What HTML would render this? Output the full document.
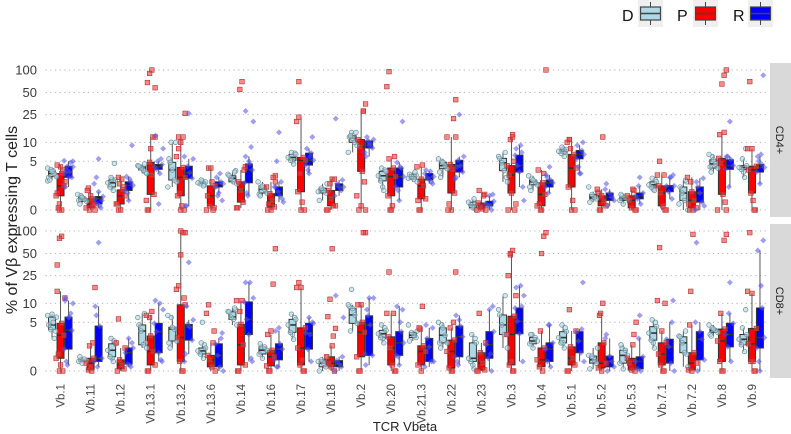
<!DOCTYPE html>
<html><head><meta charset="utf-8"><style>
html,body{margin:0;padding:0;background:#fff;}
svg{display:block;font-family:"Liberation Sans",sans-serif;}
</style></head><body>
<svg id="chart" width="791" height="434" viewBox="0 0 791 434">
<g id="legend"></g>
<g id="panels"></g>
<g id="xlabels"></g>
<text x="405" y="431" font-size="13" fill="#222" text-anchor="middle">TCR Vbeta</text>
<text transform="translate(17,220) rotate(-90)" font-size="16" fill="#222" text-anchor="middle">% of Vβ expressing T cells</text>
</svg>
<script>
const categories=["Vb.1","Vb.11","Vb.12","Vb.13.1","Vb.13.2","Vb.13.6","Vb.14","Vb.16","Vb.17","Vb.18","Vb.2","Vb.20","Vb.21.3","Vb.22","Vb.23","Vb.3","Vb.4","Vb.5.1","Vb.5.2","Vb.5.3","Vb.7.1","Vb.7.2","Vb.8","Vb.9"];
const groups=["D","P","R"];
const panels=["CD4+","CD8+"];
const yTicks=[0,5,10,25,50,100];
// stats per box: [q1, median, q3, whiskerLow, whiskerHigh]
const cd4D=[[2.6,3.0,3.3,2.2,3.8],[0.45,0.6,0.7,0.3,0.9],[1.5,1.9,2.2,1.2,2.5],[3.5,3.8,4.1,3,4.5],[2.2,3.5,4.8,1.5,10],[1.8,1.9,2.0,1.6,2.2],[2.0,2.4,2.7,1.8,3.2],[1.0,1.3,1.6,0.8,2.0],[5.2,5.8,6.5,4.5,7],[1.0,1.2,1.4,0.5,1.8],[10,11.5,12.5,7,14],[2.1,2.7,3.3,1.2,3.8],[2.3,2.6,2.9,2,3.2],[3.7,4.2,4.8,2.5,5.5],[0.1,0.25,0.4,0,0.6],[3.4,4.7,5.6,2,7],[1.7,2.0,2.2,1.2,2.7],[6.8,7.3,7.8,6,8.5],[0.6,0.7,0.9,0.4,1.1],[0.5,0.6,0.7,0.3,0.9],[1.5,1.7,2.0,1.2,2.4],[0.5,1.0,1.5,0,2.2],[3.8,4.5,5.3,3.2,6.5],[3.6,3.9,4.2,2.5,5.5]];
const cd4P=[[0.8,1.6,3.0,0,4.3],[0.1,0.3,0.6,0,1.2],[0.3,0.8,1.25,0,2.5],[0.9,2.8,4.8,0,12],[0.8,2.5,3.9,0,12],[0.2,0.8,1.6,0,3.8],[0.4,1.2,2.0,0.1,3.5],[0.15,0.5,0.95,0,2.0],[1.1,5.2,5.8,0,23],[0.2,0.6,1.2,0,2.3],[3.3,8.5,11,0,28],[0.8,2.6,3.8,0,5.5],[0.6,1.6,2.3,0,4],[1.0,3.6,4.4,0,12],[0.05,0.15,0.35,0,0.8],[1.0,2.8,4.2,0,12],[0.2,0.9,1.9,0,3.5],[1.5,3.8,6.5,0,11],[0.2,0.45,0.8,0,1.3],[0.1,0.5,0.8,0,1.3],[0.2,1.0,1.6,0,2.8],[0.1,0.5,1.1,0,2.5],[0.9,4.6,5.6,0,14],[1.0,3.5,4.1,0,8]];
const cd4R=[[2.5,3.2,4.1,1.5,5],[0.3,0.6,0.75,0.1,1.1],[1.2,1.65,2.0,0.5,2.6],[3.6,4.0,4.4,3,5],[2.4,3.1,4.1,0.2,5.5],[1.5,1.8,2.0,1,2.5],[1.9,3.5,4.5,0.8,6],[0.8,1.1,1.5,0.4,2],[4.3,5.2,6.8,3,8],[1.2,1.5,1.8,0.8,2.2],[8.2,9.5,10.5,6,11],[1.5,2.6,3.8,0.5,4.8],[2.2,2.5,3.0,1.8,3.3],[3.2,4.2,5.2,2.5,6],[0.2,0.3,0.45,0,0.8],[3.2,4.2,6.3,1.5,9],[1.5,1.9,2.2,1,2.8],[5.5,6.5,7.5,3,9],[0.5,0.7,1,0.2,1.3],[0.6,0.8,1,0.3,1.6],[1.1,1.6,1.6,0.6,2.5],[0.4,1.0,1.5,0,2.4],[3.6,4.2,5.3,1.5,6],[3.2,3.9,4.4,1.8,6]];
const cd8D=[[3.7,4.5,6.1,2.5,6.8],[0.5,0.55,0.65,0.4,0.8],[0.8,1.3,1.9,0.5,2.5],[1.8,3.5,4.5,1.5,7],[2.2,3.8,4.1,1.5,6.5],[1.0,1.25,1.5,0.7,2],[5.6,6.1,7.4,4.5,8.5],[1.0,1.3,1.6,0.7,1.9],[3.3,4.5,5.6,2.4,6.8],[0.2,0.4,0.6,0,0.8],[4.8,6.6,8.3,3.5,9.5],[2.6,3.1,3.6,2,4.5],[2.6,2.9,3.3,2.2,3.5],[2.0,2.9,4.0,1.5,5],[0.5,0.7,2.0,0.1,3],[3.0,4.5,6.6,1.5,13],[1.9,2.2,2.6,1.5,3],[2.0,2.6,3.4,1.5,4.5],[0.4,0.6,0.85,0.1,1.5],[0.4,0.9,1.3,0.1,1.8],[2.3,3.2,4.2,1.5,5.5],[1.1,2.0,2.7,0.2,3.5],[3.3,3.6,3.8,2.8,4.5],[1.8,2.4,3.0,1.2,4]];
const cd8P=[[0.7,2.9,4.8,0,15],[0.05,0.4,0.7,0,1.7],[0.1,0.3,0.6,0,1.5],[0.3,1.2,2.8,0,6.5],[0.5,2.6,9.5,0,100],[0.2,0.6,0.9,0,2],[0.3,1.8,4.6,0,11],[0.25,0.8,1.3,0,3],[0.3,1.5,4,0,17],[0.2,0.4,0.8,0,1.7],[0.8,3.3,5.0,0,9.5],[0.3,1.5,2.7,0,7],[0.3,1.2,1.7,0,4],[0.15,1.2,2.3,0,4],[0.05,0.4,1.1,0,2],[0.3,3.0,6.3,0,50],[0.2,0.6,1.5,0,3.5],[0.3,0.7,1.6,0,3.5],[0.15,0.4,2.0,0,6.5],[0.05,0.4,0.7,0,1.8],[0.3,1.0,2.0,0,3.5],[0.05,0.4,1.1,0,4.5],[0.5,2.2,3.8,0,7],[0.5,1.9,3.9,0,14]];
const cd8R=[[1.4,3.6,6.1,0.3,11],[0.5,0.7,4.3,0.2,9],[0.35,1.1,1.5,0.2,2.5],[1.1,3.4,4.8,0.5,10],[2.3,4.1,4.6,1,5.5],[0.2,0.9,1.9,0,2.5],[3.0,5.6,10.5,0.5,20],[0.6,1.4,1.9,0.2,3.5],[1.4,3.2,4.8,0.5,6],[0.2,0.35,0.55,0,0.8],[0.9,4.5,6.4,0.3,12],[0.9,2.0,3.4,0.3,9],[0.5,1.6,2.5,0.2,4],[0.8,2.7,4.3,0.3,6.5],[0.7,1.8,3.4,0,8],[3.1,5.2,8.5,0.5,18],[0.5,1.4,2.0,0.2,4.5],[1.1,2.2,3.4,0.5,3.8],[0.2,0.5,0.85,0,2.5],[0.1,0.5,0.8,0,2.5],[0.4,1.6,2.4,0,5],[0.6,2.4,3.4,0,5],[1.6,3.0,4.8,0.5,7],[1.5,2.6,8.5,0,55]];
// extra observed points (outliers & spread)
const cd4Dpts=[[2.1,2.8,3.4,3.6,2.5],[0.8,0.5],[4.6,2.3],[4.2,3.2],[10,5.5,2],[1.7,2.1],[2.9,3.4],[1.5,0.9],[6.8,5],[1.1],[14,12,9],[3.5,1.5],[2.4,2.8],[5,3.2],[0.3],[6,2.5],[2.4,1.5],[7,8],[1.5],[0.8],[2.2,1.3],[0.3,2],[6,4],[8,3.2]];
const cd4Ppts=[[0,0.3,1,2,3.5,4,0.1],[0,0.2,0.8,1.4],[0,0.3,1.5,2.3,1.8],[100,90,68,58,12,8,0,0.5],[26,12,10,8,6,0,0.2,1],[3.8,0,0.1,2],[70,55,0.1,4],[2.7,2.5,0,0.3,1.5],[70,20,0,0.4,3],[2.3,1.8,0,0.2],[35,28,0.2,0,0.8,2],[95,60,6,0.2,0],[4.3,0,0.5],[40,22,0,0.3,12],[1.2,0,0.9],[13,11,0,0.3,5],[100,3,0,0.3],[11,10,0,0.5,8],[12,0,1],[0,1.2],[5,2.8,0],[0,2,0.3],[100,85,65,13,0,0.4],[70,8,0,0.5]];
const cd4Rpts=[[3,4,4.8,2.5,3.5,5.1],[5.5,2.5,1.8,0.5,0.2],[9,2.3,1],[12.5,8,5.5,0.3],[26,0.2,6],[0.5,3,0.8],[28,20,8.5,5,1],[14,5,1.5,0.6],[12,6,3.5],[22,1.5],[9,12,7],[20,4,1.2],[3.5,2.6,2],[25,4,2.3],[0.9,0.2],[8,0.5,7],[4,2.5],[10,3,4],[1.8],[2.5],[2.8,2.5],[2,0.2],[20,6],[85,6.5,5]];
const cd8Dpts=[[6.5,3.5,5],[0.6],[2.2,0.7],[6,2],[6,2],[1.8,5],[7.5,8],[1.6],[6,3],[0.5],[16,9],[4,2.5],[4.5],[4.5,2],[2.5,0.3],[8,3],[3],[4,2],[0.9],[1.5],[5,2],[2.8,1],[4,3],[8,2]];
const cd8Ppts=[[85,80,35,12,0,0.3,1],[17,2,0.2],[5.7,2],[7.5,6,0],[95,95,48,18,16,12,0],[9.5,7,3.5],[11,7.5,0],[58,19,3.5,0],[20,17,0,0.6],[58,11.5,6.2,3.9,2.8],[95,95,9.5,0],[28,7,0],[9,3.8],[28,5,0],[7,0],[55,48,25,13,0,0.5],[95,85,50],[8,0],[10,7],[5,3],[60,11,10,0],[90,15],[90,75,0],[95,15,0,0.5]];
const cd8Rpts=[[12,10,7,6,0.5],[70,6.5],[2,0.3],[11,8,0.6],[38,9,0.5],[3.2],[20,12,0.7],[4,0.2],[5,3],[13,6],[12,8,1],[8,5,0.8],[4.5,0.5],[5.5,0.5],[9,1],[17,13,9],[4.5],[20],[3],[6.5],[11],[70],[20],[75,18,0.5]];

const NS="http://www.w3.org/2000/svg";
const svg=document.getElementById('chart');
const panelsG=document.getElementById('panels');
const X0=45.5,X1=767,band=(X1-X0)/categories.length;
const panelTop=[63,224],panelH=154;
const zeroY=[210,371];
const K=76.5;
function yScale(v,p){return zeroY[p]-K*(Math.log10(v+1.5)-Math.log10(1.5));}
function xScale(i){return X0+band*(i+0.5);}
const offs=[-8.5,0,8];
const fills=["#add8e6","#ff0000","#0000ff"];
const ptFill=["rgba(173,216,230,0.6)","rgba(240,60,60,0.6)","rgba(80,80,230,0.55)"];
const ptStroke=["#6a8a94","#b03030","#6060c0"];
function mk(tag,attrs,parent){const e=document.createElementNS(NS,tag);for(const k in attrs)e.setAttribute(k,attrs[k]);parent.appendChild(e);return e;}
const stats=[[cd4D,cd4P,cd4R],[cd8D,cd8P,cd8R]];
const pts=[[cd4Dpts,cd4Ppts,cd4Rpts],[cd8Dpts,cd8Ppts,cd8Rpts]];

for(let p=0;p<2;p++){
  const pg=mk('g',{},panelsG);
  
  
  // grid + ticks
  yTicks.forEach(t=>{
    const y=yScale(t,p);
    const gl=mk('line',{x1:X0,x2:X1,y1:y,y2:y,stroke:'#b5b5b5','stroke-width':1,'stroke-dasharray':'1.2 3.5'},pg);
    
    
    const tl=mk('text',{x:37,y:y+4.5,'font-size':13,fill:'#3a3a3a','text-anchor':'end'},pg);
    tl.textContent=t;
    
    
  });
  // strip
  const st=mk('rect',{x:770,y:panelTop[p],width:21,height:panelH,fill:'#d9d9d9'},pg);
  
  
  const stt=mk('text',{transform:`translate(776,${panelTop[p]+panelH/2}) rotate(90)`,'font-size':11,fill:'#222','text-anchor':'middle'},pg);
  stt.textContent=panels[p];
  
  
  // boxes
  for(let i=0;i<categories.length;i++){
    for(let g=0;g<3;g++){
      const s=stats[p][g][i];
      const cx=xScale(i)+offs[g];
      const bg=mk('g',{},pg);
      
      
      mk('line',{x1:cx,x2:cx,y1:yScale(s[3],p),y2:yScale(s[4],p),stroke:'#555','stroke-width':1},bg);
      const yq3=yScale(s[2],p),yq1=yScale(s[0],p);
      mk('rect',{x:cx-3.5,y:yq3,width:7,height:Math.max(0.8,yq1-yq3),fill:fills[g],stroke:'#333','stroke-width':1},bg);
      const ym=yScale(s[1],p);
      mk('line',{x1:cx-3.5,x2:cx+3.5,y1:ym,y2:ym,stroke:'#333','stroke-width':1.6},bg);
    }
  }
  // points
  for(let i=0;i<categories.length;i++){
    for(let g=0;g<3;g++){
      const vals=pts[p][g][i].concat(stats[p][g][i]);
      vals.forEach((v,j)=>{
        const jit=(((j*7+i*3+g*5)%9)-4)*1.1;
        const cx=xScale(i)+offs[g]+jit;
        const cy=yScale(v,p);
        let e;
        if(g===0){e=mk('circle',{cx:cx,cy:cy,r:2.3,fill:ptFill[0],stroke:ptStroke[0],'stroke-width':0.7},pg);}
        else if(g===1){e=mk('rect',{x:cx-2.3,y:cy-2.3,width:4.6,height:4.6,fill:ptFill[1],stroke:ptStroke[1],'stroke-width':0.6},pg);}
        else{e=mk('path',{d:`M${cx},${cy-3}L${cx+3},${cy}L${cx},${cy+3}L${cx-3},${cy}Z`,fill:ptFill[2],stroke:'none'},pg);}
        
        
      });
    }
  }
}
// x labels
const xl=document.getElementById('xlabels');
categories.forEach((c,i)=>{
  const t=mk('text',{transform:`translate(${xScale(i)+4},384) rotate(-90)`,'font-size':11.5,fill:'#444','text-anchor':'end'},xl);
  t.textContent=c;
  
  
});
// legend
const lg=document.getElementById('legend');
const legX=[[622,638],[677,693],[733,748]];
groups.forEach((g,k)=>{
  const eg=mk('g',{},lg);
  
  
  const tx=mk('text',{x:legX[k][0],y:21,'font-size':16,fill:'#111'},eg);
  tx.textContent=g;
  const kx=legX[k][1];
  mk('rect',{x:kx,y:0,width:25,height:27,fill:'#efefef'},eg);
  mk('line',{x1:kx+12.5,x2:kx+12.5,y1:2,y2:25,stroke:'#444','stroke-width':1},eg);
  mk('rect',{x:kx+2.5,y:7,width:20,height:13,fill:fills[k],stroke:'#444','stroke-width':1.2},eg);
  mk('line',{x1:kx+2.5,x2:kx+22.5,y1:13.5,y2:13.5,stroke:'#444','stroke-width':1.4},eg);
});
</script>
</body></html>
